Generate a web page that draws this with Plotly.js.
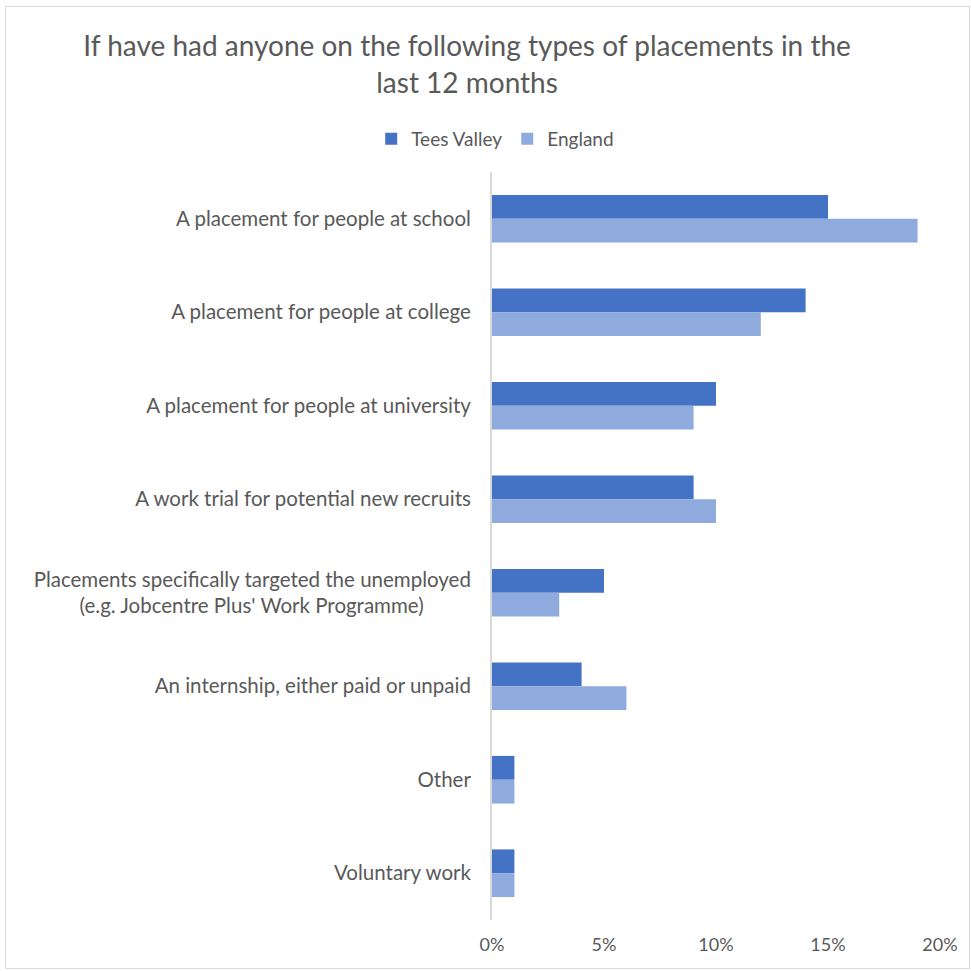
<!DOCTYPE html>
<html><head><meta charset="utf-8">
<script src="https://cdn.plot.ly/plotly-3.0.1.min.js"></script>
<style>
html,body{margin:0;padding:0;background:#fff;}
#wrap{position:relative;width:971px;height:971px;}
#chart{position:absolute;left:0;top:0;width:971px;height:971px;}
#frame{position:absolute;left:5px;top:6px;width:963px;height:961px;border:1px solid #d9d9d9;pointer-events:none;}
</style></head>
<body><div id="wrap"><div id="chart"></div><div id="frame"></div></div>
<script>
const categories = [
  "A placement for people at school",
  "A placement for people at college",
  "A placement for people at university",
  "A work trial for potential new recruits",
  "Placements specifically targeted the unemployed<br>(e.g. Jobcentre Plus' Work Programme)\u00A0\u00A0\u00A0\u00A0\u00A0\u00A0\u00A0\u00A0\u00A0",
  "An internship, either paid or unpaid",
  "Other",
  "Voluntary work"
];
const teesValley = [15, 14, 10, 9, 5, 4, 1, 1];
const england = [19, 12, 9, 10, 3, 6, 1, 1];
const xTicks = [0, 5, 10, 15, 20];
const xTickLabels = ["0%", "5%", "10%", "15%", "20%"];

const font = {family: "Lato, 'Open Sans', sans-serif", color: "#595959"};
const data = [
  {type: "bar", orientation: "h", name: "Tees Valley", y: categories, x: teesValley,
   marker: {color: "#4472C4"}, hoverinfo: "x+y"},
  {type: "bar", orientation: "h", name: "England", y: categories, x: england,
   marker: {color: "#8FAADC"}, hoverinfo: "x+y"}
];
const layout = {
  width: 971, height: 971,
  margin: {l: 492, r: 31, t: 172, b: 51},
  paper_bgcolor: "#fff", plot_bgcolor: "#fff",
  font: Object.assign({size: 17}, font),
  title: {text: "If have had anyone on the following types of placements in the<br>last 12 months",
    font: Object.assign({}, font, {size: 28}), xref: "container", x: 0.481, xanchor: "center",
    yref: "container", y: 0.942, yanchor: "top"},
  barmode: "group", bargap: 0.49, bargroupgap: 0,
  showlegend: true,
  legend: {orientation: "h", xref: "container", x: 0.51, xanchor: "center", yref: "container",
    y: 0.857, yanchor: "middle", font: Object.assign({}, font, {size: 19}), traceorder: "normal", itemwidth: 30},
  xaxis: {range: [0, 20], tickvals: xTicks, ticktext: xTickLabels, showgrid: false, zeroline: false,
    showline: false, ticks: "", ticklabelstandoff: 12, tickfont: Object.assign({}, font, {size: 18}), fixedrange: true},
  yaxis: {autorange: "reversed", showgrid: false, zeroline: false, showline: true, linecolor: "#d9d9d9",
    linewidth: 2, ticks: "", ticklabelstandoff: 15, tickfont: Object.assign({}, font, {size: 20.5}), fixedrange: true}
};
Plotly.newPlot("chart", data, layout, {displayModeBar: false, staticPlot: true});
</script></body></html>
